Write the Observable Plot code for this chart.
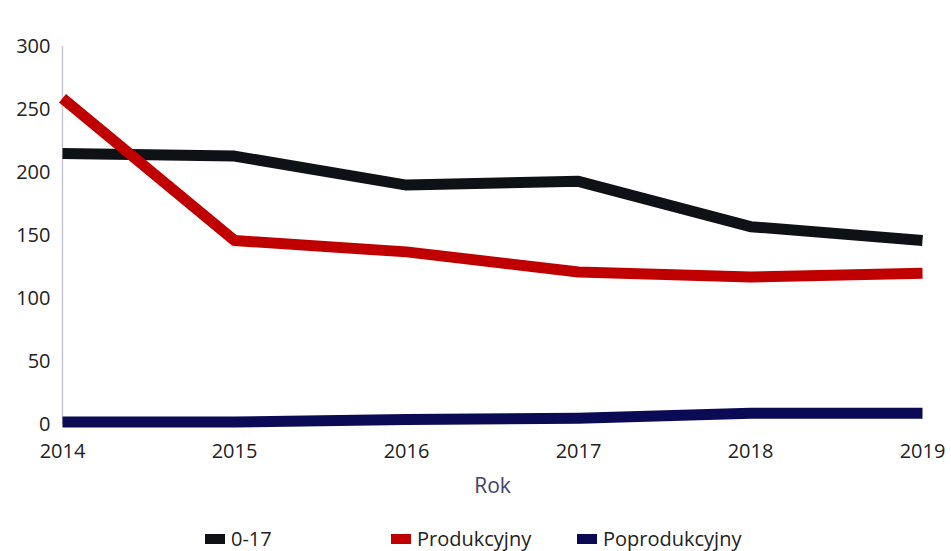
<!DOCTYPE html>
<html><head><meta charset="utf-8">
<script src="https://cdn.jsdelivr.net/npm/d3@7"></script>
<script src="https://cdn.jsdelivr.net/npm/@observablehq/plot@0.6"></script>
<style>
body{margin:0;background:#fff;font-family:"Open Sans",sans-serif;}
#wrap{position:relative;width:951px;height:551px;}
#legend{position:absolute;top:525px;left:0;width:951px;height:26px;font-size:20px;color:#222;}
.item{position:absolute;display:flex;align-items:center;}
.sw{width:20px;height:10px;margin-right:6px;}
</style></head>
<body><div id="wrap"><div id="chart"></div><div id="legend"></div></div>
<script>
const years = [2014, 2015, 2016, 2017, 2018, 2019];
const series = ["0-17", "Produkcyjny", "Poprodukcyjny"];
const colors = ["#0e1116", "#c00000", "#0b0b55"];
const v017 = [215, 213, 190, 193, 157, 146];
const vProd = [259, 146, 137, 121, 117, 120];
const vPoprod = [2, 2, 4, 5, 9, 9];
const yTicks = [0, 50, 100, 150, 200, 250, 300];

const rows = [];
[v017, vProd, vPoprod].forEach((vals, i) => vals.forEach((v, j) => rows.push({year: years[j], value: v, series: series[i]})));

const chart = Plot.plot({
  width: 951, height: 510,
  marginLeft: 62, marginRight: 29, marginTop: 46, marginBottom: 86,
  style: {fontFamily: "Open Sans, sans-serif", fontSize: "20px", color: "#222"},
  x: {domain: [2014, 2019], ticks: years, tickFormat: d => String(d), label: null},
  y: {domain: [0, 300], ticks: yTicks, label: null},
  color: {domain: series, range: colors},
  marks: [
    Plot.ruleX([2014], {stroke: "#c8c8d4", strokeWidth: 1.5}),
    Plot.axisY({ticks: yTicks, tickSize: 0, tickPadding: 12, fontSize: 20, label: null}),
    Plot.axisX({ticks: years, tickSize: 0, tickPadding: 19, fontSize: 20, tickFormat: d => String(d), label: null}),
    Plot.text(["Rok"], {frameAnchor: "bottom", dy: 68, fontSize: 21, fill: "#3f3f6e"}),
    Plot.line(rows, {x: "year", y: "value", z: "series", stroke: "series", strokeWidth: 11, strokeLinejoin: "round", strokeLinecap: "butt"})
  ]
});
document.getElementById("chart").appendChild(chart);

const legend = document.getElementById("legend");
const lx = [205, 391, 577];
series.forEach((s, i) => {
  const it = document.createElement("div");
  it.className = "item";
  it.style.left = lx[i] + "px";
  it.innerHTML = `<div class="sw" style="background:${colors[i]}"></div><span>${s}</span>`;
  legend.appendChild(it);
});
</script></body></html>
